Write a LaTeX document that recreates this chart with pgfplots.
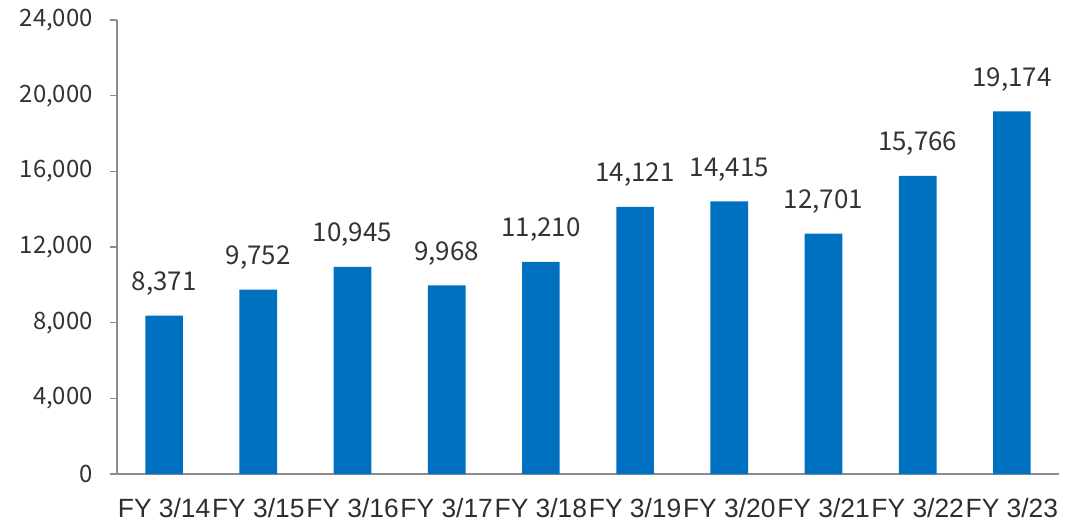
\documentclass[border=0pt]{standalone}
\usepackage{pgfplots}
\pgfplotsset{compat=1.18}
\usepackage{fontspec}
\setmainfont{Noto Sans CJK JP}
\newfontfamily\xfont{Liberation Sans}
\definecolor{barblue}{HTML}{0070C0}
\definecolor{axgray}{HTML}{8C8C8C}
\definecolor{txt}{HTML}{333333}
\begin{document}
\begin{tikzpicture}
\path[use as bounding box] (-117bp,-47bp) rectangle (956bp,474bp);
\begin{axis}[
  at={(0,0)}, anchor=south west,
  scale only axis,
  width=942bp, height=454bp,
  xmin=-0.5, xmax=9.5,
  ymin=0, ymax=24000,
  axis x line*=bottom, axis y line*=left,
  axis line style={axgray, line width=1.3bp},
  every tick/.style={axgray, line width=1.3bp},
  ytick={0,4000,...,24000},
  yticklabel style={font=\fontsize{24}{26}\selectfont, text=txt, inner sep=0pt, anchor=east, xshift=-17bp},
  y tick label style={/pgf/number format/.cd, 1000 sep={,}, assume math mode=true},
  scaled y ticks=false,
  tick align=outside,
  major tick length=7bp,
  xtick={0,...,9},
  x tick style={draw=none},
  xticklabels={FY 3/14,FY 3/15,FY 3/16,FY 3/17,FY 3/18,FY 3/19,FY 3/20,FY 3/21,FY 3/22,FY 3/23},
  xticklabel style={font=\xfont\fontsize{26.5}{28}\selectfont, text=txt!90!black, inner sep=0pt, anchor=base, yshift=-36.5bp},
  minor xtick={-0.5,0.5,...,9.5},
  minor tick length=8bp,
  minor x tick style={axgray, line width=1.3bp},
  ybar, bar width=0.4,
  nodes near coords,
  every node near coord/.append style={font=\fontsize{26}{28}\selectfont, text=txt, anchor=base, inner sep=0pt, yshift=25bp, /pgf/number format/.cd, 1000 sep={,}, assume math mode=true},
  clip=false,
]
\addplot[fill=barblue, draw=none] coordinates {
(0,8371) (1,9752) (2,10945) (3,9968) (4,11210) (5,14121) (6,14415) (7,12701) (8,15766) (9,19174)};
\end{axis}
\end{tikzpicture}
\end{document}
